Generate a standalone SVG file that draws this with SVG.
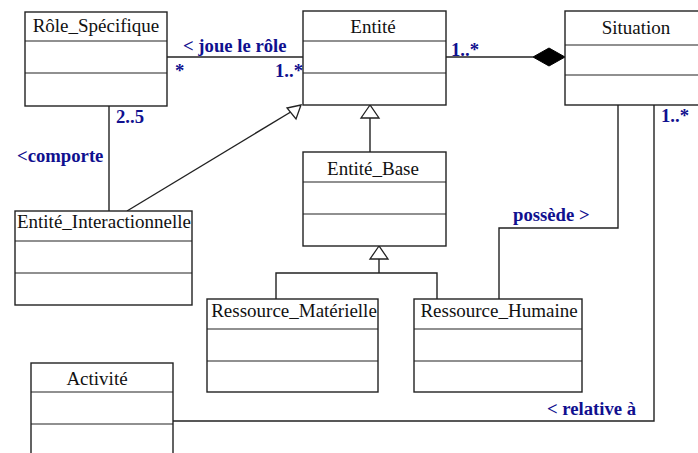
<svg xmlns="http://www.w3.org/2000/svg" width="698" height="453" viewBox="0 0 698 453">
<defs>
<style>
.box{fill:#fff;stroke:#222;stroke-width:1.4}
.div{stroke:#222;stroke-width:1.2}
.t{font-family:"Liberation Serif","Times New Roman",serif;font-size:19px;fill:#111;text-anchor:middle}
.c{fill:none;stroke:#222;stroke-width:1.4}
.lbl{font-family:"Liberation Serif","Times New Roman",serif;font-size:18.7px;font-weight:bold;fill:#10108f}
.tri{fill:#fff;stroke:#222;stroke-width:1.3}
</style>
</defs>
<rect width="698" height="453" fill="#fff"/>
<g id="connectors">
<line class="c" x1="167" y1="57" x2="303" y2="57"/>
<line class="c" x1="446" y1="57" x2="533" y2="57"/>
<polygon points="565,57 549,48 533,57 549,66" fill="#000" stroke="#000" stroke-width="1"/>
<line class="c" x1="109" y1="106" x2="109" y2="211"/>
<line class="c" x1="127" y1="211" x2="294" y2="110"/>
<polygon class="tri" points="301,105 296,119 287,108"/>
<line class="c" x1="370" y1="152" x2="370" y2="118"/>
<polygon class="tri" points="370,105 361,118 379,118"/>
<polyline class="c" points="276,299 276,273 437,273 437,299"/>
<line class="c" x1="379" y1="273" x2="379" y2="259"/>
<polygon class="tri" points="379,246 370,259 388,259"/>
<polyline class="c" points="618,105 618,228 499,228 499,299"/>
<polyline class="c" points="654,105 654,421 173,421"/>
<text class="lbl" x="183" y="52">&lt; joue le rôle</text>
<text class="lbl" x="175" y="77">*</text>
<text class="lbl" x="275" y="77">1..*</text>
<text class="lbl" x="451" y="56">1..*</text>
<text class="lbl" x="116" y="123">2..5</text>
<text class="lbl" x="17" y="162">&lt;comporte</text>
<text class="lbl" x="513" y="221">possède &gt;</text>
<text class="lbl" x="661" y="122">1..*</text>
<text class="lbl" x="547" y="415">&lt; relative à</text>
</g>
<g id="role_specifique">
<rect class="box" x="25" y="12" width="142" height="94"/>
<line class="div" x1="25" y1="41" x2="167" y2="41"/>
<line class="div" x1="25" y1="73" x2="167" y2="73"/>
<text class="t" x="96" y="32">Rôle_Spécifique</text>
</g>
<g id="entite">
<rect class="box" x="303" y="11" width="143" height="94"/>
<line class="div" x1="303" y1="41" x2="446" y2="41"/>
<line class="div" x1="303" y1="73" x2="446" y2="73"/>
<text class="t" x="373" y="33">Entité</text>
</g>
<g id="situation">
<rect class="box" x="565" y="11" width="140" height="94"/>
<line class="div" x1="565" y1="45" x2="698" y2="45"/>
<line class="div" x1="565" y1="75" x2="698" y2="75"/>
<text class="t" x="636" y="34">Situation</text>
</g>
<g id="entite_base">
<rect class="box" x="303" y="152" width="143" height="94"/>
<line class="div" x1="303" y1="182" x2="446" y2="182"/>
<line class="div" x1="303" y1="214" x2="446" y2="214"/>
<text class="t" x="373" y="175">Entité_Base</text>
</g>
<g id="entite_interactionnelle">
<rect class="box" x="15" y="211" width="177" height="94"/>
<line class="div" x1="15" y1="241" x2="192" y2="241"/>
<line class="div" x1="15" y1="273" x2="192" y2="273"/>
<text class="t" x="104" y="228">Entité_Interactionnelle</text>
</g>
<g id="ressource_materielle">
<rect class="box" x="207" y="299" width="171" height="93"/>
<line class="div" x1="207" y1="329" x2="378" y2="329"/>
<line class="div" x1="207" y1="361" x2="378" y2="361"/>
<text class="t" x="294" y="317">Ressource_Matérielle</text>
</g>
<g id="ressource_humaine">
<rect class="box" x="414" y="299" width="168" height="93"/>
<line class="div" x1="414" y1="329" x2="582" y2="329"/>
<line class="div" x1="414" y1="361" x2="582" y2="361"/>
<text class="t" x="499" y="317">Ressource_Humaine</text>
</g>
<g id="activite">
<rect class="box" x="31" y="363" width="142" height="100"/>
<line class="div" x1="31" y1="392" x2="173" y2="392"/>
<line class="div" x1="31" y1="424" x2="173" y2="424"/>
<text class="t" x="97" y="385">Activité</text>
</g>
</svg>
